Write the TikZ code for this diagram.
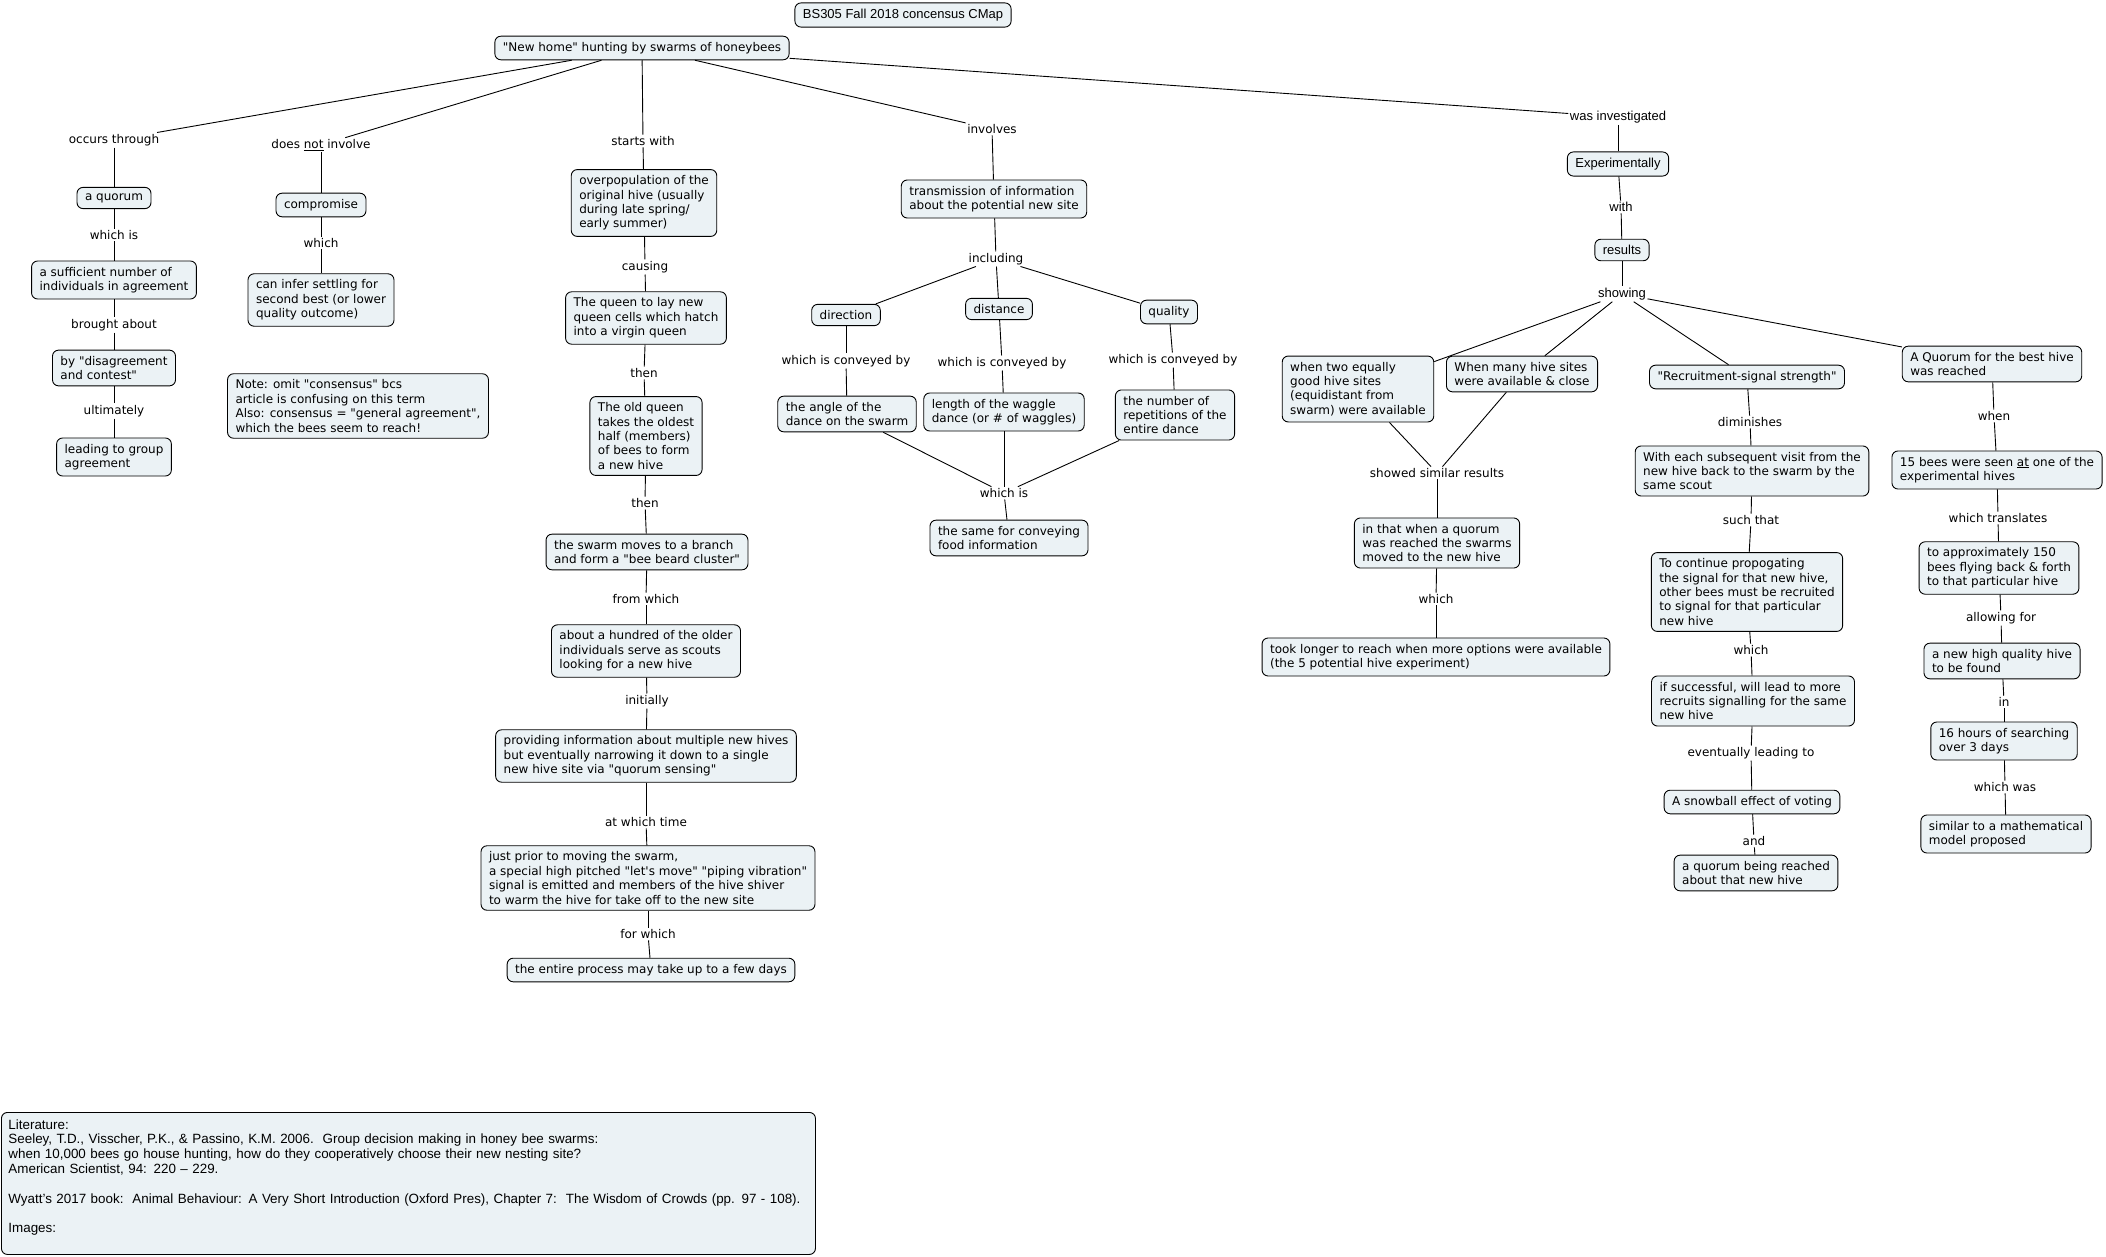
\documentclass[tikz,border=0pt]{standalone}
\usepackage{fontspec}
\setmainfont{DejaVu Sans}[Ligatures=TeXOff]
\newfontfamily\narrowfont{Liberation Sans}[Ligatures=TeXOff]
\definecolor{boxfill}{RGB}{235,242,245}

\tikzset{
  concept/.style={draw, line width=0.9pt, rounded corners=6pt, fill=boxfill,
    align=left, inner xsep=8pt, inner ysep=6pt, font=\fontsize{12}{14.4}\selectfont},
  phrase/.style={inner sep=1.5pt, align=center, font=\fontsize{12}{14.4}\selectfont},
  narrow/.style={font=\narrowfont\fontsize{13}{15}\selectfont}
}

\begin{document}
\begin{tikzpicture}[x=1pt,y=-1pt]
        \useasboundingbox (0,0) rectangle (2106,1257);

        % title and main concept
        \node[concept,narrow] (title) at (903,15) {BS305 Fall 2018 concensus CMap};
        \node[concept] (home) at (642,48) {"New home" hunting by swarms of honeybees};

        % quorum branch
        \node[phrase] (occurs) at (114,140) {occurs through};
        \node[concept] (quorum) at (114,198) {a quorum};
        \node[phrase] (whichis1) at (114,235) {which is};
        \node[concept] (sufficient) at (114,280) {a sufficient number of\\individuals in agreement};
        \node[phrase] (brought) at (114,325) {brought about};
        \node[concept] (disagree) at (114,368) {by "disagreement\\and contest"};
        \node[phrase] (ultimately) at (114,411) {ultimately};
        \node[concept] (leading) at (114,457) {leading to group\\agreement};

        % compromise branch
        \node[phrase] (notinvolve) at (321,145) {does \underline{not} involve};
        \node[concept] (compromise) at (321,205) {compromise};
        \node[phrase] (which1) at (321,243) {which};
        \node[concept] (infer) at (321,300) {can infer settling for\\second best (or lower\\quality outcome)};
        \node[concept] (note) at (358,406) {Note: omit "consensus" bcs\\article is confusing on this term\\Also: consensus = "general agreement",\\which the bees seem to reach!};

        % swarming sequence
        \node[phrase] (startswith) at (643,141) {starts with};
        \node[concept] (overpop) at (644,203) {overpopulation of the\\original hive (usually\\during late spring/\\early summer)};
        \node[phrase] (causing) at (645,267) {causing};
        \node[concept] (layqueen) at (646,318) {The queen to lay new\\queen cells which hatch\\into a virgin queen};
        \node[phrase] (then1) at (644,373) {then};
        \node[concept] (oldqueen) at (646,436) {The old queen\\takes the oldest\\half (members)\\of bees to form\\a new hive};
        \node[phrase] (then2) at (645,503) {then};
        \node[concept] (branch) at (647,552) {the swarm moves to a branch\\and form a "bee beard cluster"};
        \node[phrase] (fromwhich) at (646,599) {from which};
        \node[concept] (scouts) at (646,651) {about a hundred of the older\\individuals serve as scouts\\looking for a new hive};
        \node[phrase] (initially) at (647,701) {initially};
        \node[concept] (providing) at (646,756) {providing information about multiple new hives\\but eventually narrowing it down to a single\\new hive site via "quorum sensing"};
        \node[phrase] (atwhich) at (646,822) {at which time};
        \node[concept] (piping) at (648,878) {just prior to moving the swarm,\\a special high pitched "let's move" "piping vibration"\\signal is emitted and members of the hive shiver\\to warm the hive for take off to the new site};
        \node[phrase] (forwhich) at (648,934) {for which};
        \node[concept] (fewdays) at (651,970) {the entire process may take up to a few days};

        % dance information
        \node[phrase] (involves) at (992,129) {involves};
        \node[concept] (transmission) at (994,199) {transmission of information\\about the potential new site};
        \node[phrase] (including) at (996,259) {including};
        \node[concept] (direction) at (846,315) {direction};
        \node[concept] (distance) at (999,309) {distance};
        \node[concept] (quality) at (1169,312) {quality};
        \node[phrase] (conv1) at (846,361) {which is conveyed by};
        \node[phrase] (conv2) at (1002,363) {which is conveyed by};
        \node[phrase] (conv3) at (1173,360) {which is conveyed by};
        \node[concept] (angle) at (847,414) {the angle of the\\dance on the swarm};
        \node[concept] (waggle) at (1004,412) {length of the waggle\\dance (or \# of waggles)};
        \node[concept] (repetitions) at (1175,415) {the number of\\repetitions of the\\entire dance};
        \node[phrase] (whichis2) at (1004,493) {which is};
        \node[concept] (food) at (1009,538) {the same for conveying\\food information};

        % experiments
        \node[phrase,narrow] (investigated) at (1618,117) {was investigated};
        \node[concept,narrow] (experimentally) at (1618,164) {Experimentally};
        \node[phrase,narrow] (with) at (1621,207) {with};
        \node[concept,narrow] (results) at (1622,250) {results};
        \node[phrase,narrow] (showing) at (1622,294) {showing};
        \node[concept] (twosites) at (1358,389) {when two equally\\good hive sites\\(equidistant from\\swarm) were available};
        \node[concept] (manysites) at (1522,374) {When many hive sites\\were available \& close};
        \node[concept] (recruitment) at (1747,377) {"Recruitment-signal strength"};
        \node[concept] (bestquorum) at (1992,364) {A Quorum for the best hive\\was reached};
        \node[phrase] (similar) at (1437,473) {showed similar results};
        \node[concept] (inthat) at (1437,543) {in that when a quorum\\was reached the swarms\\moved to the new hive};
        \node[phrase] (which2) at (1436,599) {which};
        \node[concept] (tooklonger) at (1436,657) {took longer to reach when more options were available\\(the 5 potential hive experiment)};

        \node[phrase] (diminishes) at (1750,422) {diminishes};
        \node[concept] (subsequent) at (1752,471) {With each subsequent visit from the\\new hive back to the swarm by the\\same scout};
        \node[phrase] (suchthat) at (1751,520) {such that};
        \node[concept] (propagate) at (1747,592) {To continue propogating\\the signal for that new hive,\\other bees must be recruited\\to signal for that particular\\new hive};
        \node[phrase] (which3) at (1751,650) {which};
        \node[concept] (successful) at (1753,701) {if successful, will lead to more\\recruits signalling for the same\\new hive};
        \node[phrase] (eventually) at (1751,753) {eventually leading to};
        \node[concept] (snowball) at (1752,802) {A snowball effect of voting};
        \node[phrase] (and) at (1754,841) {and};
        \node[concept] (quorumreached) at (1756,873) {a quorum being reached\\about that new hive};

        \node[phrase] (when) at (1994,416) {when};
        \node[concept] (fifteen) at (1997,470) {15 bees were seen \underline{at} one of the\\experimental hives};
        \node[phrase] (translates) at (1998,518) {which translates};
        \node[concept] (approx) at (1999,568) {to approximately 150\\bees flying back \& forth\\to that particular hive};
        \node[phrase] (allowing) at (2001,618) {allowing for};
        \node[concept] (highquality) at (2002,661) {a new high quality hive\\to be found};
        \node[phrase] (in) at (2004,702) {in};
        \node[concept] (sixteen) at (2004,741) {16 hours of searching\\over 3 days};
        \node[phrase] (whichwas) at (2005,787) {which was};
        \node[concept] (model) at (2006,834) {similar to a mathematical\\model proposed};

        % references
        \node[concept,anchor=north west,text width=800pt,inner xsep=7pt,inner ysep=5pt,
            minimum height=142pt,
            font=\narrowfont\fontsize{13.4}{14.8}\selectfont] (literature) at (1,1112) {Literature:\\
            \mbox{Seeley, T.D., Visscher, P.K., \& Passino, K.M. 2006.\ \ Group decision making in honey bee swarms:}\\
            \mbox{when 10,000 bees go house hunting, how do they cooperatively choose their new nesting site?}\\
            American Scientist, 94: 220 – 229.\\
            \mbox{}\\
            \mbox{Wyatt’s 2017 book:\ \ Animal Behaviour: A Very Short Introduction (Oxford Pres), Chapter 7:\ \ The Wisdom of Crowds (pp. 97 - 108).}\\
            \mbox{}\\
            Images:\\
            \mbox{}};

        % connectors
        \foreach \a/\b in {home/occurs, occurs/quorum, quorum/whichis1, whichis1/sufficient,
            sufficient/brought, brought/disagree, disagree/ultimately, ultimately/leading,
            home/notinvolve, notinvolve/compromise, compromise/which1, which1/infer,
            home/startswith, startswith/overpop, overpop/causing, causing/layqueen,
            layqueen/then1, then1/oldqueen, oldqueen/then2, then2/branch,
            branch/fromwhich, fromwhich/scouts, scouts/initially, initially/providing,
            providing/atwhich, atwhich/piping, piping/forwhich, forwhich/fewdays,
            home/involves, involves/transmission, transmission/including,
            including/direction, including/distance, including/quality,
            direction/conv1, conv1/angle, distance/conv2, conv2/waggle,
            quality/conv3, conv3/repetitions,
            angle/whichis2, waggle/whichis2, repetitions/whichis2, whichis2/food,
            home/investigated, investigated/experimentally, experimentally/with,
            with/results, results/showing,
            showing/twosites, showing/manysites, showing/recruitment, showing/bestquorum,
            twosites/similar, manysites/similar, similar/inthat, inthat/which2, which2/tooklonger,
            recruitment/diminishes, diminishes/subsequent, subsequent/suchthat,
            suchthat/propagate, propagate/which3, which3/successful,
            successful/eventually, eventually/snowball, snowball/and, and/quorumreached,
            bestquorum/when, when/fifteen, fifteen/translates, translates/approx,
            approx/allowing, allowing/highquality, highquality/in, in/sixteen,
            sixteen/whichwas, whichwas/model}
            \draw[line width=0.9pt] (\a) -- (\b);
\end{tikzpicture}
\end{document}
